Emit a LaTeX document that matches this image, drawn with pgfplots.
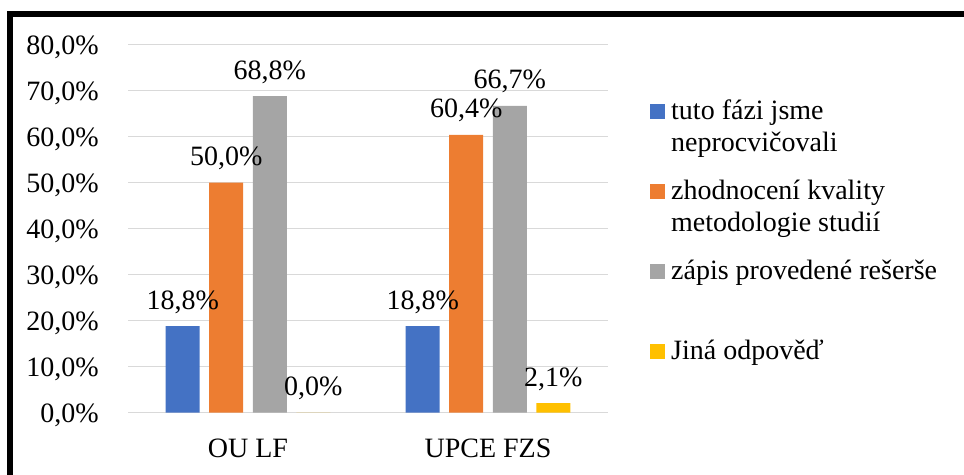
\documentclass[border=0pt]{standalone}
\usepackage{pgfplots}
\pgfplotsset{compat=1.18}
\usepackage{fontspec}
\setmainfont{Liberation Serif}
\definecolor{cblue}{HTML}{4472C4}
\definecolor{corange}{HTML}{ED7D31}
\definecolor{cgray}{HTML}{A5A5A5}
\definecolor{cyellow}{HTML}{FFC000}
\definecolor{cgrid}{HTML}{D9D9D9}
\pgfplotsset{
  /pgf/number format/assume math mode=true,
  mybar/.style={ybar, bar width=34pt, draw=none,
    legend image code/.code={\fill[##1] (0pt,1pt) rectangle (15pt,16pt);}},
  mylab/.style={ybar, bar width=34pt, bar shift=#1, draw=none, fill=none, forget plot,
    nodes near coords={\pgfmathprintnumber[fixed,fixed zerofill,precision=1,use comma]{\pgfplotspointmeta}\%},
    every node near coord/.append style={anchor=base, inner sep=0pt, xshift=#1, yshift=17pt, text=black}},
}
\begin{document}
\fontsize{28}{32}\selectfont
\begin{tikzpicture}
\useasboundingbox (0,0) rectangle (964pt,474pt);
\begin{scope}
\clip (0,0) rectangle (964pt,474pt);
\draw[line width=6pt] (10pt,-20pt) -- (10pt,459.5pt) -- (1000pt,459.5pt);
\end{scope}
\begin{axis}[
  at={(128pt,61.3pt)}, anchor=south west,
  scale only axis, width=480pt, height=368pt,
  xmin=-0.5, xmax=1.5, ymin=0, ymax=80,
  xtick={0,1}, xticklabels={OU LF, UPCE FZS},
  ytick={0,10,...,80},
  yticklabel={\pgfmathprintnumber[fixed,fixed zerofill,precision=1,use comma]{\tick}\%},
  yticklabel style={anchor=base east, inner sep=0pt, xshift=-29pt, yshift=-9.5pt},
  xticklabel style={anchor=base, inner sep=0pt, yshift=-44.3pt},
  axis line style={draw=none},
  major tick length=0pt,
  ymajorgrids, grid style={cgrid, line width=1.4pt},
  clip=false,
  legend style={draw=none, fill=none, inner sep=0pt, at={(1.0875,0.857)}, anchor=north west,
    row sep=16pt, column sep=6pt,
    nodes={inner sep=0pt, anchor=base west, text height=22.4pt, text depth=41.6pt},
    cells={anchor=base west}},
]
\addplot[mybar, fill=cblue, bar shift=-65.3pt] coordinates {(0,18.8) (1,18.8)};
\addlegendentry{\parbox[t]{300pt}{\strut tuto fázi jsme\\\strut neprocvičovali}}
\addplot[mybar, fill=corange, bar shift=-21.8pt] coordinates {(0,50.0) (1,60.4)};
\addlegendentry{\parbox[t]{300pt}{\strut zhodnocení kvality\\\strut metodologie studií}}
\addplot[mybar, fill=cgray, bar shift=21.8pt] coordinates {(0,68.8) (1,66.7)};
\addlegendentry{\parbox[t]{300pt}{\strut zápis provedené rešerše\\\strut}}
\addplot[mybar, fill=cyellow, bar shift=65.3pt] coordinates {(0,0.0) (1,2.1)};
\addlegendentry{\parbox[t]{300pt}{\strut Jiná odpověď\\\strut}}
\addplot[mylab=-65.3pt] coordinates {(0,18.8) (1,18.8)};
\addplot[mylab=-21.8pt] coordinates {(0,50.0) (1,60.4)};
\addplot[mylab=21.8pt] coordinates {(0,68.8) (1,66.7)};
\addplot[mylab=65.3pt] coordinates {(0,0.0) (1,2.1)};
\end{axis}
\end{tikzpicture}
\end{document}
